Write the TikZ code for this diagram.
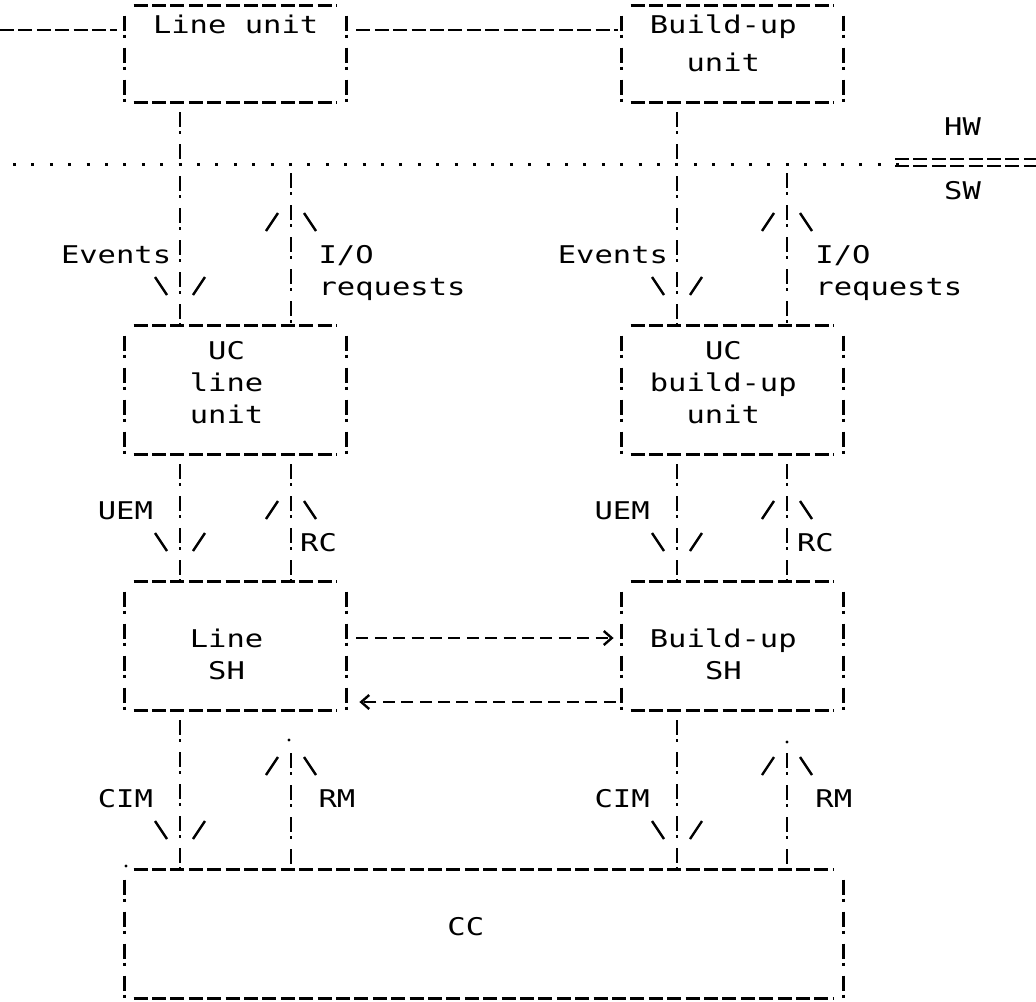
\documentclass[tikz,border=0pt]{standalone}
\usepackage{fontspec}
\newfontfamily\dotfont[FakeStretch=1.25]{DejaVu Sans Mono}
\usetikzlibrary{fit,calc,arrows.meta}

\tikzset{
  lbl/.style={font=\dotfont\fontsize{12.2}{14}\selectfont, inner sep=0pt, anchor=base west},
  box/.style={inner sep=0pt},
  hbar/.style={line width=1.2pt, dash pattern=on 7pt off 2.2pt},
  vbar/.style={line width=1.2pt, dash pattern=on 7.5pt off 2pt on 1.5pt off 5pt, dash phase=11pt},
  hdash/.style={line width=1.2pt, dash pattern=on 6pt off 3.2pt},
  dotrow/.style={line width=1.5pt, dash pattern=on 1.5pt off 7.7pt},
  barb/.style={line width=1.2pt},
  tip/.style={-{Straight Barb[length=4pt,width=7pt,line width=1.2pt]}},
  pics/vdown/.style={code={\draw[barb] (-25,-9) -- (-13,9); \draw[barb] (25,-9) -- (13,9);}},
  pics/vup/.style={code={\draw[barb] (-25,9) -- (-13,-9); \draw[barb] (25,9) -- (13,-9);}},
}

% four sides of a box, drawn as printed
\newcommand\drawbox[1]{%
  \draw[hbar] ([xshift=4.5pt]#1.north west) -- ([xshift=-4.5pt]#1.north east);
  \draw[hbar] ([xshift=4.5pt]#1.south west) -- ([xshift=-4.5pt]#1.south east);
  \draw[vbar] (#1.north west) -- (#1.south west);
  \draw[vbar] (#1.north east) -- (#1.south east);}

\begin{document}
\begin{tikzpicture}[x=0.5pt,y=-0.5pt]
\useasboundingbox (0,0) rectangle (1036,1001);

% boxes
\node[box, fit={(125,6) (346,102)}] (lu) {};
\node[box, fit={(622,6) (843,102)}] (bu) {};
\node[box, fit={(125,326) (346,454)}] (ucl) {};
\node[box, fit={(622,326) (843,454)}] (ucb) {};
\node[box, fit={(125,582) (346,710)}] (shl) {};
\node[box, fit={(622,582) (843,710)}] (shb) {};
\node[box, fit={(125,870) (843,998)}] (cc) {};
\foreach \b in {lu,bu,ucl,ucb,shl,shb,cc} {\drawbox{\b}}

% columns of the connectors
\coordinate (xa) at (180,0);
\coordinate (xb) at (291,0);
\coordinate (xc) at (677,0);
\coordinate (xd) at (787,0);

% labels
\node[lbl] (tlu) at (152.6,33) {Line unit};
\node[lbl] (tbu) at (649.4,33) {Build-up};
\node[lbl] (tbu2) at (686.2,71) {unit};
\node[lbl] (thw) at (943.8,135) {HW};
\node[lbl] (tsw) at (943.8,199) {SW};
\node[lbl] (tevl) at (60.6,263) {Events};
\node[lbl] (tevr) at (557.4,263) {Events};
\node[lbl] (tiol) at (318.2,263) {I/O};
\node[lbl] (treql) at (318.2,295) {requests};
\node[lbl] (tior) at (815,263) {I/O};
\node[lbl] (treqr) at (815,295) {requests};
\node[lbl] (tucl) at (207.8,359) {UC};
\node[lbl] (tucl2) at (189.4,391) {line};
\node[lbl] (tucl3) at (189.4,423) {unit};
\node[lbl] (tucb) at (704.6,359) {UC};
\node[lbl] (tucb2) at (649.4,391) {build-up};
\node[lbl] (tucb3) at (686.2,423) {unit};
\node[lbl] (tueml) at (97.4,519) {UEM};
\node[lbl] (tuemr) at (594.2,519) {UEM};
\node[lbl] (trcl) at (299.8,551) {RC};
\node[lbl] (trcr) at (796.6,551) {RC};
\node[lbl] (tshl) at (189.4,647) {Line};
\node[lbl] (tshl2) at (207.8,679) {SH};
\node[lbl] (tshb) at (649.4,647) {Build-up};
\node[lbl] (tshb2) at (704.6,679) {SH};
\node[lbl] (tciml) at (97.4,807) {CIM};
\node[lbl] (tcimr) at (594.2,807) {CIM};
\node[lbl] (trml) at (318.2,807) {RM};
\node[lbl] (trmr) at (815,807) {RM};
\node[lbl] (tcc) at (447,935) {CC};

% HW / SW border
\draw[dotrow] (13,164) -- (900,164);
\draw[hbar, line width=1pt] (895,159) -- (1036,159);
\draw[hbar, line width=1pt] (895,166) -- (1036,166);

% line on top
\coordinate (lin) at (0,30);
\draw[hbar] (lin) -- ([xshift=-4pt]lin -| lu.west);
\draw[hbar, shorten <=5pt, shorten >=2pt] (lin -| lu.east) -- (lin -| bu.west);

% Events / I/O requests
\coordinate (iotl) at (291,173);
\coordinate (iotr) at (787,173);
\draw[vbar] (lu.south -| xa) -- (ucl.north -| xa);
\draw[vbar, dash phase=0pt] (iotl) -- (ucl.north -| xb);
\draw[vbar] (bu.south -| xc) -- (ucb.north -| xc);
\draw[vbar, dash phase=0pt] (iotr) -- (ucb.north -| xd);
\pic at (180,286) {vdown}; \pic at (291,222) {vup};
\pic at (677,286) {vdown}; \pic at (787,222) {vup};

% UEM / RC
\draw[vbar] (ucl.south -| xa) -- (shl.north -| xa);
\draw[vbar] (ucl.south -| xb) -- (shl.north -| xb);
\draw[vbar] (ucb.south -| xc) -- (shb.north -| xc);
\draw[vbar] (ucb.south -| xd) -- (shb.north -| xd);
\pic at (180,542) {vdown}; \pic at (291,510) {vup};
\pic at (677,542) {vdown}; \pic at (787,510) {vup};

% SH to SH
\draw[hdash, tip, shorten <=5pt, shorten >=4pt] ([yshift=4pt]shl.east) -- ([yshift=4pt]shb.west);
\draw[hdash, tip, shorten <=3pt, shorten >=6.5pt] ([yshift=-28pt]shb.west) -- ([yshift=-28pt]shl.east);

% CIM / RM
\coordinate (rmtl) at (291,753);
\coordinate (rmtr) at (787,753);
\draw[vbar] (shl.south -| xa) -- (cc.north -| xa);
\draw[vbar, dash phase=0pt] (rmtl) -- (cc.north -| xb);
\draw[vbar] (shb.south -| xc) -- (cc.north -| xc);
\draw[vbar, dash phase=0pt] (rmtr) -- (cc.north -| xd);
\pic at (180,830) {vdown}; \pic at (291,766) {vup};
\pic at (677,830) {vdown}; \pic at (787,766) {vup};
\fill (289,740) circle (1.6); \fill (787,742) circle (1.6);
\fill (126,866) circle (1.6); % corner dot

\end{tikzpicture}
\end{document}
